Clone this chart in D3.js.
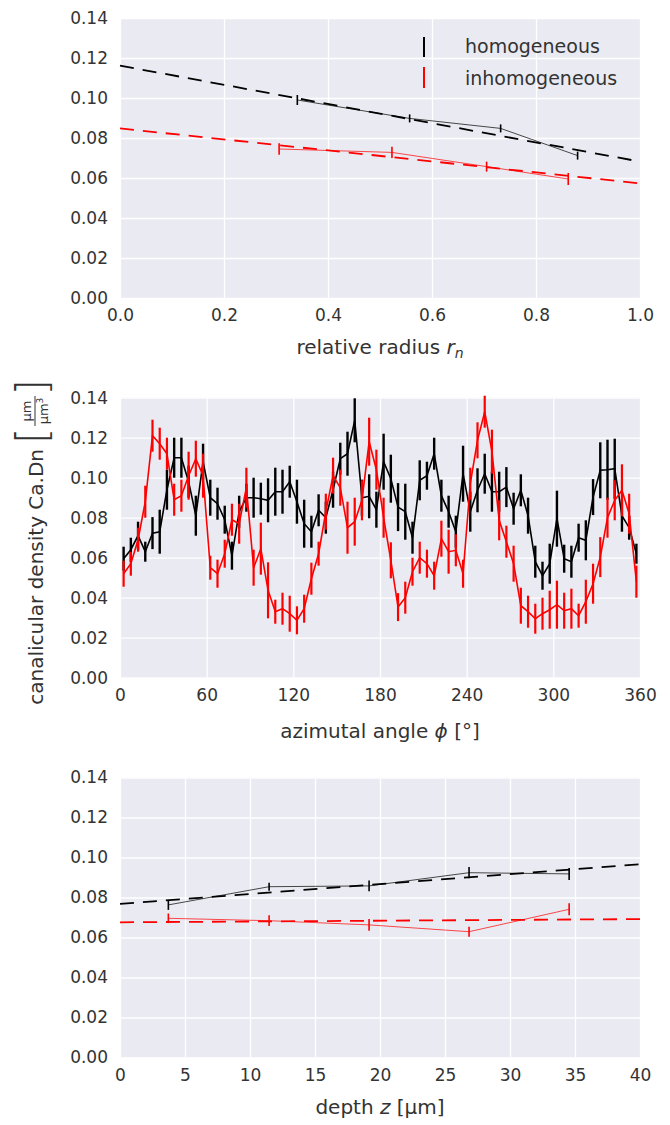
<html>
<head>
<meta charset="utf-8">
<script src="https://d3js.org/d3.v7.min.js"></script>
<style>
  body { margin: 0; background: #fff; }
  text { font-family: "DejaVu Sans", sans-serif; fill: #333; }
</style>
</head>
<body>
<svg id="chart" width="670" height="1125"></svg>
<script>
// ---- data ----
// panel 1: relative radius
var radHomoX   = [0.341, 0.557, 0.732, 0.880];
var radHomo    = [0.0990, 0.0898, 0.0848, 0.0712];
var radHomoErr = [0.0025, 0.0020, 0.0020, 0.0020];
var radInhX    = [0.306, 0.523, 0.705, 0.862];
var radInh     = [0.0745, 0.0728, 0.0657, 0.0595];
var radInhErr  = [0.0029, 0.0028, 0.0025, 0.0030];
var radFitX    = [0, 1];
var radFitHomo = [0.1162, 0.0682];
var radFitInh  = [0.0848, 0.0573];

// panel 2: azimutal angle
var angle = [2.5, 7.5, 12.5, 17.5, 22.5, 27.5, 32.5, 37.5, 42.5, 47.5, 52.5, 57.5,
  62.5, 67.5, 72.5, 77.5, 82.5, 87.5, 92.5, 97.5, 102.5, 107.5, 112.5, 117.5,
  122.5, 127.5, 132.5, 137.5, 142.5, 147.5, 152.5, 157.5, 162.5, 167.5, 172.5, 177.5,
  182.5, 187.5, 192.5, 197.5, 202.5, 207.5, 212.5, 217.5, 222.5, 227.5, 232.5, 237.5,
  242.5, 247.5, 252.5, 257.5, 262.5, 267.5, 272.5, 277.5, 282.5, 287.5, 292.5, 297.5,
  302.5, 307.5, 312.5, 317.5, 322.5, 327.5, 332.5, 337.5, 342.5, 347.5, 352.5, 357.5];
var angHomo = [0.0595, 0.064, 0.071, 0.063, 0.0723, 0.073, 0.094, 0.110, 0.110, 0.098, 0.081, 0.108,
  0.090, 0.087, 0.079, 0.061, 0.083, 0.090, 0.090, 0.0895, 0.0887, 0.093, 0.093, 0.098,
  0.088, 0.077, 0.073, 0.0837, 0.080, 0.094, 0.1095, 0.112, 0.1287, 0.090, 0.0907, 0.084,
  0.108, 0.0995, 0.0853, 0.083, 0.070, 0.0987, 0.101, 0.112, 0.091, 0.083, 0.073, 0.102,
  0.083, 0.0937, 0.102, 0.093, 0.093, 0.0953, 0.0845, 0.0937, 0.081, 0.058, 0.051, 0.057,
  0.0795, 0.0595, 0.058, 0.070, 0.0687, 0.0903, 0.1037, 0.104, 0.1045, 0.081, 0.075, 0.062];
var angHomoErr = [0.006, 0.006, 0.007, 0.005, 0.008, 0.011, 0.010, 0.010, 0.010, 0.008, 0.010, 0.009,
  0.009, 0.008, 0.007, 0.007, 0.008, 0.007, 0.010, 0.008, 0.011, 0.012, 0.011, 0.008,
  0.011, 0.012, 0.008, 0.008, 0.008, 0.009, 0.008, 0.011, 0.011, 0.009, 0.011, 0.009,
  0.014, 0.012, 0.012, 0.014, 0.008, 0.010, 0.007, 0.008, 0.008, 0.008, 0.008, 0.014,
  0.010, 0.011, 0.010, 0.010, 0.010, 0.010, 0.008, 0.008, 0.009, 0.008, 0.007, 0.010,
  0.014, 0.007, 0.008, 0.007, 0.010, 0.009, 0.014, 0.015, 0.015, 0.008, 0.006, 0.005];
var angInh = [0.052, 0.057, 0.069, 0.088, 0.121, 0.117, 0.112, 0.089, 0.091, 0.101, 0.1095, 0.101,
  0.055, 0.052, 0.062, 0.079, 0.077, 0.095, 0.055, 0.0645, 0.0437, 0.033, 0.0345, 0.032,
  0.0287, 0.0345, 0.0495, 0.062, 0.083, 0.101, 0.095, 0.075, 0.078, 0.0887, 0.118, 0.104,
  0.080, 0.0587, 0.0353, 0.040, 0.053, 0.060, 0.057, 0.051, 0.0695, 0.063, 0.0637, 0.052,
  0.097, 0.1187, 0.133, 0.113, 0.0787, 0.068, 0.057, 0.036, 0.033, 0.0295, 0.032, 0.034,
  0.0365, 0.0335, 0.0345, 0.031, 0.038, 0.047, 0.0603, 0.080, 0.0887, 0.0937, 0.082, 0.048];
var angInhErr = [0.0065, 0.006, 0.006, 0.008, 0.008, 0.008, 0.008, 0.008, 0.008, 0.012, 0.009, 0.011,
  0.006, 0.007, 0.007, 0.008, 0.010, 0.010, 0.009, 0.013, 0.014, 0.006, 0.008, 0.009,
  0.007, 0.007, 0.008, 0.006, 0.009, 0.009, 0.009, 0.013, 0.012, 0.010, 0.012, 0.010,
  0.010, 0.009, 0.007, 0.008, 0.007, 0.008, 0.007, 0.007, 0.009, 0.011, 0.008, 0.007,
  0.008, 0.009, 0.008, 0.011, 0.010, 0.008, 0.009, 0.009, 0.008, 0.0075, 0.008, 0.0095,
  0.012, 0.009, 0.010, 0.006, 0.011, 0.010, 0.010, 0.010, 0.010, 0.013, 0.010, 0.008];

// panel 3: depth
var depthX       = [3.72, 11.47, 19.16, 26.85, 34.55];
var depthHomo    = [0.0763, 0.0854, 0.0858, 0.0924, 0.0918];
var depthHomoErr = [0.0025, 0.0020, 0.0027, 0.0028, 0.0030];
var depthInh     = [0.0696, 0.0684, 0.0663, 0.0629, 0.0741];
var depthInhErr  = [0.0024, 0.0027, 0.0029, 0.0025, 0.0030];
var depthFitX    = [0, 40];
var depthFitHomo = [0.0768, 0.0966];
var depthFitInh  = [0.0676, 0.0692];

var yTicks = [0, 0.02, 0.04, 0.06, 0.08, 0.10, 0.12, 0.14];
var radTicks = [0, 0.2, 0.4, 0.6, 0.8, 1.0];
var angTicks = [0, 60, 120, 180, 240, 300, 360];
var depthTicks = [0, 5, 10, 15, 20, 25, 30, 35, 40];

var svg = d3.select("#chart");
var left = 120, right = 640;

function panel(top, xDomain, xTicks, xFmt) {
  var x = d3.scaleLinear().domain(xDomain).range([left, right]);
  var y = d3.scaleLinear().domain([0, 0.14]).range([top + 280, top]);
  var g = svg.append("g");
  g.append("rect").attr("x", left).attr("y", top).attr("width", right - left).attr("height", 280)
    .attr("fill", "#eaeaf2");
  // grid
  g.append("g").attr("transform", "translate(0," + (top + 280) + ")")
    .call(d3.axisBottom(x).tickValues(xTicks).tickSize(-280).tickFormat(""))
    .call(function(s) { s.select(".domain").remove(); s.selectAll("line").attr("stroke", "#fff").attr("stroke-width", 1.3); });
  g.append("g").attr("transform", "translate(" + left + ",0)")
    .call(d3.axisLeft(y).tickValues(yTicks).tickSize(-(right - left)).tickFormat(""))
    .call(function(s) { s.select(".domain").remove(); s.selectAll("line").attr("stroke", "#fff").attr("stroke-width", 1.3); });
  // tick labels
  g.append("g").attr("transform", "translate(0," + (top + 280) + ")")
    .call(d3.axisBottom(x).tickValues(xTicks).tickSize(0).tickPadding(11).tickFormat(xFmt))
    .call(function(s) { s.select(".domain").remove(); s.selectAll("text").attr("font-size", 17).attr("font-family", "DejaVu Sans").attr("fill", "#333"); });
  g.append("g").attr("transform", "translate(" + left + ",0)")
    .call(d3.axisLeft(y).tickValues(yTicks).tickSize(0).tickPadding(12).tickFormat(d3.format(".2f")))
    .call(function(s) { s.select(".domain").remove(); s.selectAll("text").attr("font-size", 17).attr("font-family", "DejaVu Sans").attr("fill", "#333"); });
  return { g: g, x: x, y: y };
}

function series(p, xs, ys, es, color, lw, ew, opacity) {
  var pts = xs.map(function(v, i) { return [v, ys[i], es[i]]; });
  p.g.append("path").datum(pts)
    .attr("d", d3.line().x(function(d) { return p.x(d[0]); }).y(function(d) { return p.y(d[1]); }))
    .attr("fill", "none").attr("stroke", color).attr("stroke-width", lw).attr("stroke-opacity", opacity);
  p.g.selectAll(null).data(pts).enter().append("line")
    .attr("x1", function(d) { return p.x(d[0]); }).attr("x2", function(d) { return p.x(d[0]); })
    .attr("y1", function(d) { return p.y(d[1] - d[2]); }).attr("y2", function(d) { return p.y(d[1] + d[2]); })
    .attr("stroke", color).attr("stroke-width", ew);
}

function fit(p, xs, ys, color) {
  p.g.append("line")
    .attr("x1", p.x(xs[0])).attr("y1", p.y(ys[0])).attr("x2", p.x(xs[1])).attr("y2", p.y(ys[1]))
    .attr("stroke", color).attr("stroke-width", 1.8).attr("stroke-dasharray", "14,9");
}

// panel 1
var p1 = panel(18, [0, 1], radTicks, d3.format(".1f"));
fit(p1, radFitX, radFitHomo, "#000");
fit(p1, radFitX, radFitInh, "#ff0000");
series(p1, radHomoX, radHomo, radHomoErr, "#000", 1, 1.6, 0.7);
series(p1, radInhX, radInh, radInhErr, "#ff0000", 1, 1.6, 0.7);

var legend = svg.append("g");
legend.append("line").attr("x1", 424).attr("x2", 424).attr("y1", 37).attr("y2", 57).attr("stroke", "#000").attr("stroke-width", 2);
legend.append("line").attr("x1", 424).attr("x2", 424).attr("y1", 67).attr("y2", 88).attr("stroke", "#ff0000").attr("stroke-width", 2);
legend.append("text").attr("x", 465).attr("y", 53).attr("font-size", 19).text("homogeneous");
legend.append("text").attr("x", 465).attr("y", 85).attr("font-size", 19).text("inhomogeneous");

var l1 = svg.append("text").attr("x", 380).attr("y", 354).attr("text-anchor", "middle").attr("font-size", 20);
l1.append("tspan").text("relative radius ");
l1.append("tspan").attr("font-style", "italic").text("r");
l1.append("tspan").attr("font-style", "italic").attr("font-size", 14).attr("dy", 4).text("n");

// panel 2
var p2 = panel(397.7, [0, 360], angTicks, d3.format("d"));
series(p2, angle, angHomo, angHomoErr, "#000", 1.6, 2.4, 1);
series(p2, angle, angInh, angInhErr, "#ff0000", 1.6, 2.2, 1);

var l2 = svg.append("text").attr("x", 380).attr("y", 738).attr("text-anchor", "middle").attr("font-size", 20);
l2.append("tspan").text("azimutal angle ");
l2.append("tspan").attr("font-style", "italic").text("\u03d5");
l2.append("tspan").text(" [\u00b0]");

// y label
var yl = svg.append("g").attr("transform", "translate(43,541) rotate(-90)");
yl.append("text").attr("x", 92).attr("y", 0).attr("text-anchor", "end").attr("font-size", 20)
  .text("canalicular density Ca.Dn");
yl.append("text").attr("x", 97).attr("y", 4).attr("font-size", 42).attr("font-weight", 200).text("[");
yl.append("text").attr("x", 162).attr("y", 4).attr("text-anchor", "end").attr("font-size", 42).attr("font-weight", 200).text("]");
yl.append("text").attr("x", 130).attr("y", -12).attr("text-anchor", "middle").attr("font-size", 13).text("\u03bcm");
yl.append("line").attr("x1", 115).attr("x2", 145).attr("y1", -8).attr("y2", -8).attr("stroke", "#333").attr("stroke-width", 1);
var den = yl.append("text").attr("x", 130).attr("y", 5).attr("text-anchor", "middle").attr("font-size", 13);
den.append("tspan").text("\u03bcm");
den.append("tspan").attr("font-size", 9).attr("dy", -5).text("3");

// panel 3
var p3 = panel(777.5, [0, 40], depthTicks, d3.format("d"));
fit(p3, depthFitX, depthFitHomo, "#000");
fit(p3, depthFitX, depthFitInh, "#ff0000");
series(p3, depthX, depthHomo, depthHomoErr, "#000", 1, 1.6, 0.7);
series(p3, depthX, depthInh, depthInhErr, "#ff0000", 1, 1.6, 0.7);

var l3 = svg.append("text").attr("x", 380).attr("y", 1114).attr("text-anchor", "middle").attr("font-size", 20);
l3.append("tspan").text("depth ");
l3.append("tspan").attr("font-style", "italic").text("z");
l3.append("tspan").text(" [\u03bcm]");
</script>
</body>
</html>
